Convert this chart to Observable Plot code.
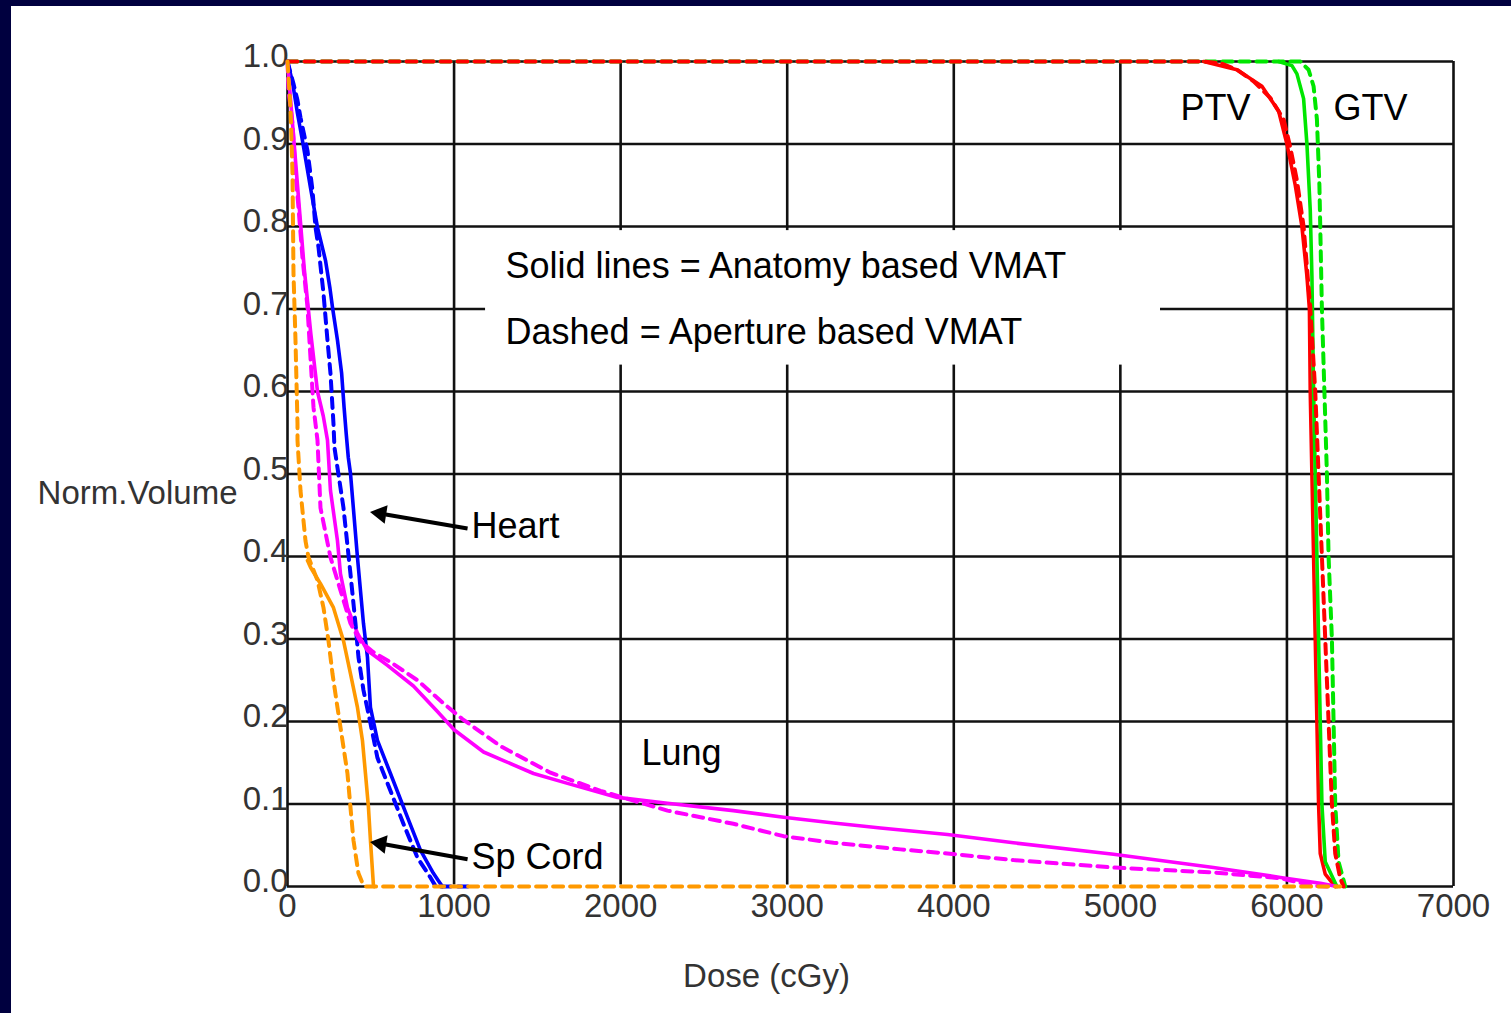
<!DOCTYPE html>
<html><head><meta charset="utf-8">
<script src="https://cdn.jsdelivr.net/npm/d3@7"></script>
<script src="https://cdn.jsdelivr.net/npm/@observablehq/plot@0.6"></script>
<style>
html,body{margin:0;padding:0;background:#00003f;overflow:hidden;width:1511px;height:1013px}
#panel{position:absolute;left:11px;top:6px;width:1500px;height:1007px;background:#fff}
</style></head><body><div id="panel"></div>
<script>
// ---- data (dose in cGy, normalized volume) ----
const doseTicks = [0, 1000, 2000, 3000, 4000, 5000, 6000, 7000];
const volTicks = [0, 0.1, 0.2, 0.3, 0.4, 0.5, 0.6, 0.7, 0.8, 0.9, 1.0];

const ptvSolid = [[5500,1],[5700,0.99],[5850,0.97],[5950,0.94],[6000,0.9],[6050,0.85],[6090,0.8],[6120,0.74],[6135,0.7],[6140,0.6],[6150,0.5],[6160,0.4],[6170,0.3],[6180,0.2],[6190,0.1],[6200,0.04],[6230,0.015],[6290,0]];
const ptvDashed = [[0,1],[5500,1],[5600,0.998],[5700,0.99],[5800,0.976],[5900,0.956],[5980,0.93],[6020,0.896],[6060,0.856],[6100,0.8],[6140,0.702],[6170,0.6],[6190,0.5],[6210,0.4],[6230,0.3],[6250,0.2],[6270,0.1],[6290,0.04],[6320,0.01],[6340,0]];
const gtvSolid = [[5950,1],[6030,0.995],[6060,0.985],[6100,0.955],[6120,0.9],[6140,0.82],[6150,0.74],[6160,0.6],[6170,0.5],[6180,0.4],[6190,0.3],[6200,0.2],[6210,0.1],[6230,0.03],[6300,0]];
const gtvDashed = [[0,1],[6080,1],[6130,0.99],[6160,0.97],[6180,0.93],[6195,0.85],[6200,0.8],[6210,0.7],[6225,0.6],[6240,0.5],[6250,0.4],[6270,0.3],[6280,0.2],[6290,0.1],[6310,0.03],[6350,0]];
const heartSolid = [[0,1],[30,0.975],[60,0.937],[90,0.904],[138,0.847],[180,0.799],[228,0.759],[255,0.725],[270,0.702],[300,0.662],[325,0.622],[340,0.58],[352,0.55],[365,0.52],[378,0.501],[420,0.399],[456,0.319],[480,0.278],[498,0.217],[540,0.177],[618,0.137],[720,0.084],[798,0.044],[876,0.016],[906,0.007],[930,0]];
const heartDashed = [[0,1],[36,0.973],[60,0.953],[78,0.932],[120,0.892],[150,0.844],[168,0.799],[186,0.775],[216,0.719],[240,0.662],[258,0.622],[276,0.561],[282,0.532],[336,0.459],[378,0.379],[408,0.319],[426,0.278],[456,0.238],[498,0.198],[540,0.156],[618,0.116],[696,0.076],[780,0.035],[858,0.011],[890,0],[1100,0]];
const lungSolid = [[0,1],[20,0.95],[60,0.85],[100,0.75],[140,0.67],[180,0.6],[215,0.57],[240,0.541],[258,0.48],[300,0.419],[318,0.379],[360,0.338],[420,0.307],[480,0.286],[600,0.268],[756,0.243],[900,0.212],[1000,0.19],[1177,0.163],[1477,0.137],[1681,0.125],[1981,0.108],[2281,0.101],[2677,0.092],[2978,0.084],[3278,0.077],[3560,0.071],[3962,0.063],[4358,0.053],[4959,0.039],[5559,0.023],[5961,0.011],[6201,0.004],[6300,0]];
const lungDashed = [[0,1],[6,0.965],[30,0.925],[48,0.864],[66,0.823],[90,0.762],[120,0.702],[138,0.641],[156,0.581],[180,0.541],[198,0.459],[258,0.399],[318,0.359],[378,0.319],[438,0.297],[516,0.284],[618,0.272],[780,0.25],[936,0.222],[1050,0.203],[1279,0.17],[1579,0.138],[1879,0.116],[2077,0.104],[2281,0.092],[2677,0.076],[2978,0.061],[3278,0.053],[3680,0.045],[3962,0.04],[4358,0.032],[4959,0.023],[5559,0.017],[5961,0.01],[6159,0.001],[6250,0]];
const cordSolid = [[120,0.395],[138,0.387],[198,0.367],[276,0.338],[336,0.298],[378,0.258],[420,0.217],[450,0.177],[468,0.137],[486,0.096],[498,0.056],[516,0.001],[520,0]];
const cordDashed = [[0,1],[18,0.944],[30,0.864],[36,0.743],[48,0.662],[60,0.561],[60,0.541],[78,0.48],[108,0.419],[126,0.399],[180,0.371],[216,0.338],[246,0.298],[270,0.258],[300,0.217],[330,0.177],[360,0.137],[378,0.096],[396,0.056],[426,0.016],[450,0.004],[470,0],[6320,0]];

const structures = ["PTV", "GTV", "Heart", "Lung", "Sp Cord"];
const structureColors = ["#ff0000", "#00e600", "#0000ff", "#ff00ff", "#ff9900"];

const series = [
  {structure: "PTV", plan: "Anatomy", values: ptvSolid},
  {structure: "GTV", plan: "Anatomy", values: gtvSolid},
  {structure: "Heart", plan: "Anatomy", values: heartSolid},
  {structure: "Lung", plan: "Anatomy", values: lungSolid},
  {structure: "Sp Cord", plan: "Anatomy", values: cordSolid},
  {structure: "Heart", plan: "Aperture", values: heartDashed},
  {structure: "Lung", plan: "Aperture", values: lungDashed},
  {structure: "GTV", plan: "Aperture", values: gtvDashed},
  {structure: "PTV", plan: "Aperture", values: ptvDashed},
  {structure: "Sp Cord", plan: "Aperture", values: cordDashed}
];
const rows = series.flatMap(s => s.values.map(([dose, vol]) => ({structure: s.structure, plan: s.plan, key: s.structure + "/" + s.plan, dose, vol})));

// annotations (in data coordinates)
const centeredLabels = [
  {text: "PTV", dose: 5571, vol: 0.943},
  {text: "GTV", dose: 6502, vol: 0.943},
  {text: "Lung", dose: 2365, vol: 0.161}
];
const arrowLabels = [
  {text: "Heart", dose: 1105, vol: 0.436},
  {text: "Sp Cord", dose: 1105, vol: 0.035}
];
const legendLines = [
  {text: "Solid lines = Anatomy based VMAT", dose: 1309, vol: 0.752},
  {text: "Dashed = Aperture based VMAT", dose: 1309, vol: 0.671}
];
const legendBox = [{x1: 1189, x2: 5241, y1: 0.632, y2: 0.795}];
const arrowShafts = [
  {x1: 1081, y1: 0.434, x2: 590, y2: 0.451},
  {x1: 1081, y1: 0.033, x2: 590, y2: 0.051}
];
const arrowHeads = [
  {dose: 560, vol: 0.452},
  {dose: 560, vol: 0.052}
];
const bottomGap = [{x1: 530, x2: 6330}];

const tickFont = "Liberation Sans, Arial, sans-serif";
const annFont = "Liberation Sans, Arial, Helvetica, sans-serif";

const chart = Plot.plot({
  width: 1500,
  height: 1007,
  marginLeft: 276,
  marginRight: 58,
  marginTop: 55,
  marginBottom: 127,
  style: {background: "transparent", overflow: "visible"},
  x: {domain: [0, 7000]},
  y: {domain: [0, 1]},
  color: {domain: structures, range: structureColors},
  marks: [
    Plot.gridX(doseTicks, {stroke: "#111", strokeOpacity: 1, strokeWidth: 2.6}),
    Plot.gridY(volTicks, {stroke: "#111", strokeOpacity: 1, strokeWidth: 2.6}),
    Plot.rect(legendBox, {x1: "x1", x2: "x2", y1: "y1", y2: "y2", fill: "white"}),
    Plot.ruleY(bottomGap, {y: 0, x1: "x1", x2: "x2", stroke: "white", strokeWidth: 4}),
    Plot.axisX({ticks: doseTicks, tickSize: 0, tickPadding: 7, fontSize: 33, fontFamily: tickFont, fill: "#333", tickFormat: d => String(d), label: null}),
    Plot.axisY({ticks: volTicks, tickSize: 0, tickPadding: -1, fontSize: 33, fontFamily: tickFont, fill: "#333", dy: -5, tickFormat: d3.format(".1f"), label: null}),
    Plot.text(["Norm.Volume"], {frameAnchor: "left", textAnchor: "end", lineAnchor: "middle", dx: -50, dy: 19, fontSize: 33, fontFamily: tickFont, fill: "#333"}),
    Plot.text(["Dose (cGy)"], {frameAnchor: "bottom", textAnchor: "middle", lineAnchor: "middle", dx: -104, dy: 90, fontSize: 33, fontFamily: tickFont, fill: "#333"}),
    Plot.text(legendLines, {x: "dose", y: "vol", text: "text", textAnchor: "start", lineAnchor: "middle", fontSize: 36, fontFamily: annFont, fill: "black"}),
    Plot.line(rows.filter(d => d.plan === "Anatomy"), {x: "dose", y: "vol", z: "key", stroke: "structure", strokeWidth: 3.6, curve: "linear"}),
    Plot.line(rows.filter(d => d.plan === "Aperture"), {x: "dose", y: "vol", z: "key", stroke: "structure", strokeWidth: 4, strokeDasharray: "10,7", curve: "linear"}),
    Plot.text(centeredLabels, {x: "dose", y: "vol", text: "text", textAnchor: "middle", lineAnchor: "middle", fontSize: 36, fontFamily: annFont, fill: "black"}),
    Plot.text(arrowLabels, {x: "dose", y: "vol", text: "text", textAnchor: "start", lineAnchor: "middle", fontSize: 36, fontFamily: annFont, fill: "black"}),
    Plot.link(arrowShafts, {x1: "x1", y1: "y1", x2: "x2", y2: "y2", stroke: "black", strokeWidth: 4}),
    Plot.dot(arrowHeads, {x: "dose", y: "vol", symbol: "triangle2", r: 9, fill: "black", stroke: "none", rotate: -81})
  ]
});
document.getElementById("panel").appendChild(chart);
</script>
</body></html>
